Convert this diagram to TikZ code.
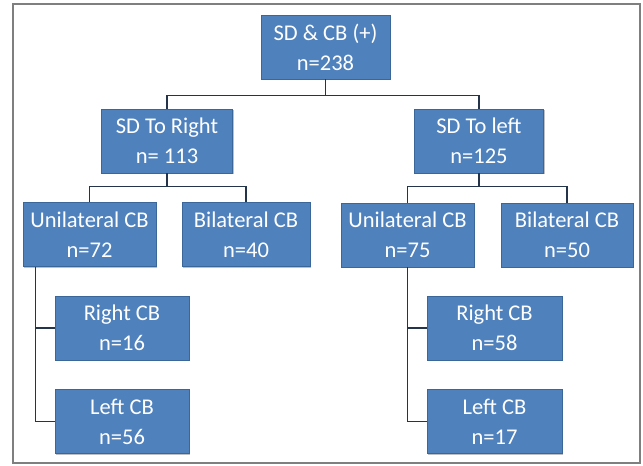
\documentclass[tikz,border=0pt]{standalone}
\usepackage{fontspec}
\setmainfont{Carlito}
\usetikzlibrary{shadows}
\definecolor{boxfill}{HTML}{4F81BD}
\definecolor{boxedge}{HTML}{3A6699}
\definecolor{linecol}{HTML}{24344A}
\definecolor{framecol}{HTML}{7F7F7F}
\begin{document}
\begin{tikzpicture}[x=1pt,y=-1pt,
  box/.style={draw=boxedge, fill=boxfill, text=white, minimum width=#1, minimum height=64pt,
    align=center, inner sep=0pt, font=\fontsize{22.5}{30}\selectfont, line width=0.8pt,
    drop shadow={shadow xshift=1.2pt, shadow yshift=-1.2pt, fill=black, opacity=0.25}},
  conn/.style={draw=linecol, line width=1.3pt}]
\useasboundingbox (0,0) rectangle (643,466);
\draw[framecol, line width=1.2pt] (13,4) rectangle (640,463);

\node[box=129] (top) at (325.5,47) {SD \& CB (+)\\n=238};
\node[box=131] (sdr) at (167,141) {SD To Right\\n= 113};
\node[box=129] (sdl) at (479,141) {SD To left\\n=125};
\node[box=133] (ul) at (89.5,234.5) {Unilateral CB\\n=72};
\node[box=128] (bl) at (246,234.5) {Bilateral CB\\n=40};
\node[box=133] (ur) at (407.5,235) {Unilateral CB\\n=75};
\node[box=132] (br) at (567,235) {Bilateral CB\\n=50};
\node[box=134] (rl) at (122,328) {Right CB\\n=16};
\node[box=134] (ll) at (122,421.5) {Left CB\\n=56};
\node[box=135] (rr) at (494.5,328) {Right CB\\n=58};
\node[box=135] (lr) at (494.5,421.5) {Left CB\\n=17};

\draw[conn] (top.south) -- ++(0,16) -| (sdr.north);
\draw[conn] (top.south) -- ++(0,16) -| (sdl.north);
\draw[conn] (sdr.south) -- ++(0,13) -| (ul.north);
\draw[conn] (sdr.south) -- ++(0,13) -| (bl.north);
\draw[conn] (sdl.south) -- ++(0,13) -| (ur.north);
\draw[conn] (sdl.south) -- ++(0,13) -| (br.north);
\draw[conn] ([xshift=13pt]ul.south west) |- (rl.west);
\draw[conn] ([xshift=13pt]ul.south west) |- (ll.west);
\draw[conn] (ur.south) |- (rr.west);
\draw[conn] (ur.south) |- (lr.west);
\end{tikzpicture}
\end{document}
